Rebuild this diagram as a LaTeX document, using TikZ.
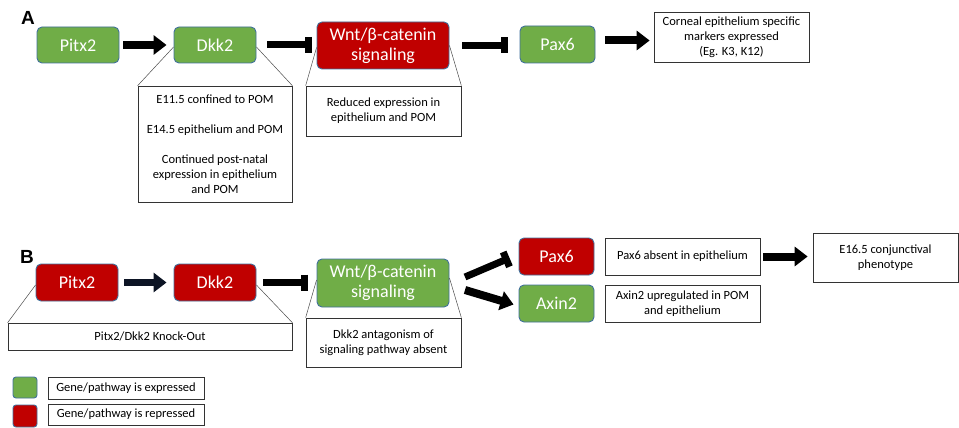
\documentclass[tikz,border=0pt]{standalone}
\usepackage{fontspec}
\setmainfont{Carlito}
\newfontfamily\lblfont{Liberation Sans}
\usetikzlibrary{arrows.meta}
\definecolor{gfill}{HTML}{70AD47}
\definecolor{rfill}{HTML}{C00000}
\definecolor{bord}{HTML}{41719C}
\definecolor{navyc}{HTML}{0C1424}
\begin{document}
\begin{tikzpicture}[x=1pt,y=-1pt,
 gene/.style={draw=bord, line width=0.9pt, rounded corners=5pt, text=white, font=\fontsize{18}{20}\selectfont, inner sep=0pt, align=center},
 gbox/.style={gene, fill=gfill},
 rbox/.style={gene, fill=rfill},
 note/.style={draw=black!80, line width=0.7pt, fill=white, inner sep=0pt, align=center, font=\fontsize{12.5}{15}\selectfont},
 sz/.style 2 args={minimum width=#1pt, minimum height=#2pt},
 act/.style={line width=8pt, -{Triangle[width=19pt,length=13pt]}},
 inh/.style={line width=7pt, -{Bar[width=16pt,line width=7pt]}},
 callout/.style={line width=0.5pt, draw=black!70},
 lbl/.style={font=\lblfont\fontsize{19}{20}\selectfont\bfseries, inner sep=0pt}
]
\useasboundingbox (0,0) rectangle (959,428);
\fill[white] (0,0) rectangle (959,428);

% ---------- Panel A ----------
\node[lbl] (lA) at (28,18) {A};
\node[gbox, sz={82}{36}] (pitxA) at (78,45) {Pitx2};
\node[gbox, sz={82}{36}] (dkkA) at (215,45) {Dkk2};
\node[rbox, sz={132}{47}] (wntA) at (383,45.5) {Wnt/β-catenin\\signaling};
\node[gbox, sz={75}{37}] (paxA) at (557.5,44.5) {Pax6};
\node[note, sz={155}{50}] (corn) at (731.5,37) {Corneal epithelium specific\\markers expressed\\(Eg. K3, K12)};
\node[note, sz={154}{116}] (calDkk) at (215,144) {E11.5 confined to POM\\[15pt]E14.5 epithelium and POM\\[15pt]Continued post-natal\\expression in epithelium\\and POM};
\node[note, sz={155}{50}] (calWnt) at (383.5,111) {Reduced expression in\\epithelium and POM};

\draw[act, shorten <=4pt, shorten >=7pt] (pitxA.east) -- (dkkA.west);
\draw[inh, shorten <=11pt, shorten >=5pt] (dkkA.east) -- (dkkA.east -| wntA.west);
\draw[inh, shorten <=13pt, shorten >=12pt] (wntA.east) -- (wntA.east -| paxA.west);
\draw[act, shorten <=10pt, shorten >=4pt] ([yshift=4pt]paxA.east) -- ([yshift=4pt]paxA.east -| corn.west);

\draw[callout] ([yshift=-2pt]dkkA.west) -- (calDkk.north west);
\draw[callout] ([yshift=-2pt]dkkA.east) -- (calDkk.north east);
\draw[callout] ([yshift=-2pt]wntA.west) -- (calWnt.north west);
\draw[callout] (wntA.east) -- (calWnt.north east);

% ---------- Panel B ----------
\node[lbl] (lB) at (27,257) {B};
\node[rbox, sz={82}{37}] (pitxB) at (77,282.5) {Pitx2};
\node[rbox, sz={82}{37}] (dkkB) at (215,282.5) {Dkk2};
\node[gbox, sz={132}{48}] (wntB) at (383,283) {Wnt/β-catenin\\signaling};
\node[note, sz={284}{27}] (calKO) at (150,336.5) {Pitx2/Dkk2 Knock-Out};
\node[note, sz={155}{49}] (calWntB) at (383.5,342.5) {Dkk2 antagonism of\\signaling pathway absent};
\node[rbox, sz={75}{37}] (paxB) at (556.5,256.5) {Pax6};
\node[gbox, sz={75}{37}] (axin) at (556.5,303.5) {Axin2};
\node[note, sz={155}{37}] (boxPax) at (682.5,256.5) {Pax6 absent in epithelium};
\node[note, sz={155}{37}] (boxAxin) at (682.5,303.5) {Axin2 upregulated in POM\\and epithelium};
\node[note, sz={145}{49}] (e16) at (885.5,257.5) {E16.5 conjunctival\\phenotype};

\draw[act, draw=navyc, line width=7pt, shorten <=6pt, shorten >=7pt] (pitxB.east) -- (dkkB.west);
\draw[inh, shorten <=7pt, shorten >=9pt] (dkkB.east) -- (dkkB.east -| wntB.west);
\coordinate (b1) at (465,277);
\coordinate (b2) at (465,290);
\draw[inh] (b1) -- ([xshift=-9pt,yshift=-1.5pt]paxB.west);
\draw[act] (b2) -- ([xshift=-5pt,yshift=-1pt]axin.west);
\draw[act, shorten <=3pt, shorten >=5pt] (boxPax.east) -- (boxPax.east -| e16.west);

\draw[callout] ([yshift=-2.5pt]pitxB.west) -- (calKO.north west);
\draw[callout] ([yshift=-2.5pt]dkkB.east) -- (calKO.north east);
\draw[callout] ([yshift=3pt]wntB.west) -- (calWntB.north west);
\draw[callout] ([yshift=5pt]wntB.east) -- (calWntB.north east);

% ---------- Legend ----------
\node[gbox, sz={24}{21}, rounded corners=3pt] (lgG) at (25,387.5) {};
\node[note, sz={156}{22}] (lgGt) at (126,388) {Gene/pathway is expressed};
\node[rbox, sz={24}{22}, rounded corners=3pt] (lgR) at (25,416) {};
\node[note, sz={156}{21}] (lgRt) at (126,414.5) {Gene/pathway is repressed};
\end{tikzpicture}
\end{document}
